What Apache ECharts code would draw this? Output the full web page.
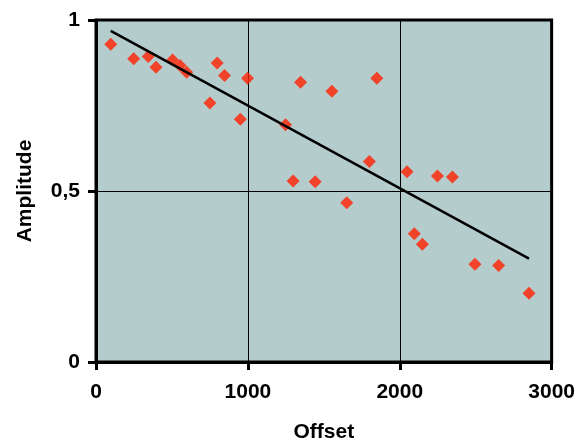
<!DOCTYPE html>
<html>
<head>
<meta charset="utf-8">
<script src="https://cdn.jsdelivr.net/npm/echarts@6/dist/echarts.min.js"></script>
<style>html,body{margin:0;padding:0;background:#fff}#c{width:578px;height:448px}</style>
</head>
<body>
<div id="c"></div>
<script>
const offsets = [97, 248, 344, 395, 504, 553, 597, 750, 798, 846, 950, 998, 1248, 1298, 1347, 1443, 1553, 1651, 1800, 1849, 2048, 2096, 2149, 2248, 2347, 2495, 2651, 2851];
const amplitudes = [0.929, 0.887, 0.893, 0.862, 0.883, 0.867, 0.847, 0.757, 0.874, 0.838, 0.710, 0.830, 0.694, 0.529, 0.818, 0.527, 0.792, 0.466, 0.586, 0.830, 0.556, 0.375, 0.344, 0.544, 0.541, 0.286, 0.282, 0.201];
const trendX = [97, 2851];
const trendY = [0.968, 0.302];
const xTicks = [0, 1000, 2000, 3000];
const yTicks = [0, 0.5, 1];

const chart = echarts.init(document.getElementById('c'));
const font = 'Liberation Sans, Arial, sans-serif';
chart.setOption({
  animation: false,
  grid: {left: 96, right: 26, top: 20, bottom: 85, show: true, backgroundColor: '#b5cccc', borderColor: '#000', borderWidth: 3},
  xAxis: {
    type: 'value', min: 0, max: 3000, interval: 1000,
    name: 'Offset', nameLocation: 'middle', nameGap: 60,
    nameTextStyle: {fontFamily: font, fontSize: 21, fontWeight: 'bold', color: '#000'},
    axisLine: {show: true, onZero: false, lineStyle: {color: '#000', width: 3}},
    axisTick: {show: true, inside: false, length: 8, lineStyle: {color: '#000', width: 3}},
    axisLabel: {fontFamily: font, fontSize: 21, fontWeight: 'bold', color: '#000', margin: 20,
      formatter: v => xTicks.includes(v) ? String(v) : ''},
    splitLine: {show: true, lineStyle: {color: '#000', width: 1}}
  },
  yAxis: {
    type: 'value', min: 0, max: 1, interval: 0.5,
    name: 'Amplitude', nameLocation: 'middle', nameGap: 60, nameRotate: 90,
    nameTextStyle: {fontFamily: font, fontSize: 21, fontWeight: 'bold', color: '#000'},
    axisLine: {show: true, onZero: false, lineStyle: {color: '#000', width: 3}},
    axisTick: {show: true, inside: false, length: 8, lineStyle: {color: '#000', width: 3}},
    axisLabel: {fontFamily: font, fontSize: 21, fontWeight: 'bold', color: '#000', margin: 16,
      formatter: v => yTicks.includes(v) ? String(v).replace('.', ',') : ''},
    splitLine: {show: true, lineStyle: {color: '#000', width: 1}}
  },
  series: [
    {type: 'scatter', symbol: 'diamond', symbolSize: 13, itemStyle: {color: '#ff2000'},
      data: offsets.map((x, i) => [x, amplitudes[i]]), z: 3},
    {type: 'line', symbol: 'none', lineStyle: {color: '#000', width: 2.5},
      data: trendX.map((x, i) => [x, trendY[i]]), z: 4}
  ]
});
</script>
</body>
</html>
